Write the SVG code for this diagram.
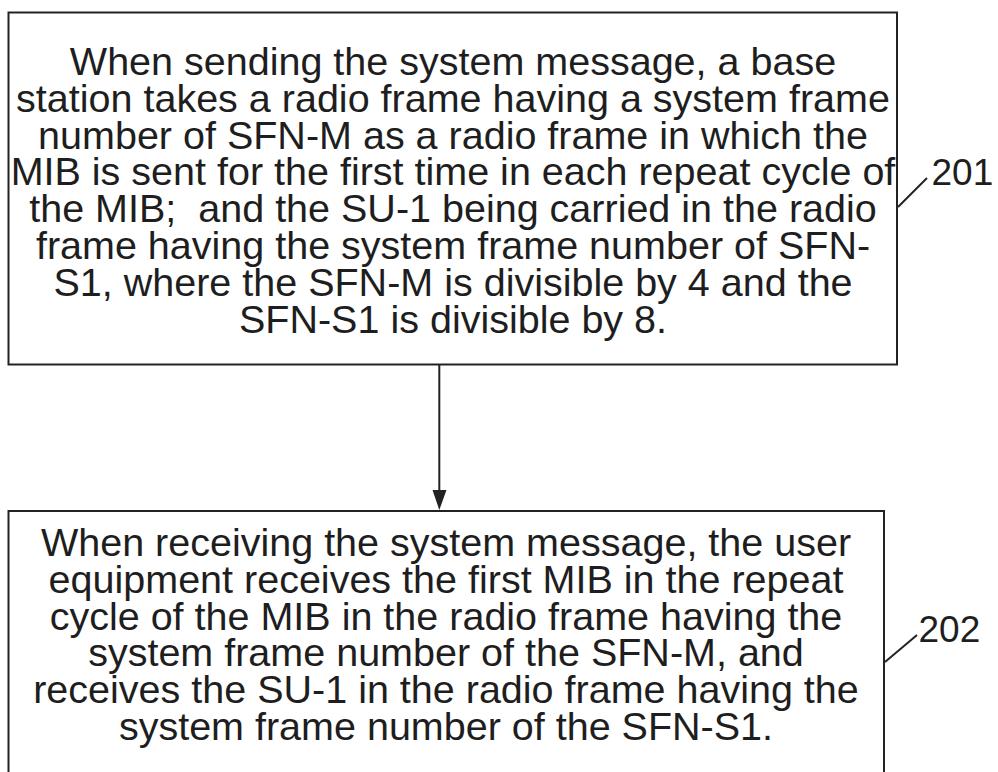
<svg xmlns="http://www.w3.org/2000/svg" width="998" height="772" viewBox="0 0 998 772">
<style>
.box{fill:#fff;stroke:#222;stroke-width:2}
.ln{stroke:#222;stroke-width:2;fill:none}
.t{font-family:"Liberation Sans",Arial,sans-serif;font-size:39.5px;fill:#1e1e1e;text-anchor:middle;white-space:pre}
.lbl{font-family:"Liberation Sans",Arial,sans-serif;font-size:37px;fill:#1e1e1e}
</style>
<defs>
<marker id="ah" markerWidth="14" markerHeight="20" refX="7" refY="20" orient="auto-start-reverse" markerUnits="userSpaceOnUse" viewBox="0 0 14 20">
<path d="M0,0 L14,0 L7,20 Z" fill="#222" transform="rotate(0)"/>
</marker>
</defs>
<rect width="998" height="772" fill="#fff"/>
<g id="node-201">
<rect class="box" x="8.5" y="12.5" width="888.5" height="352"/>
<text class="t" x="453" y="75">When sending the system message, a base</text>
<text class="t" x="453" y="111.8">station takes a radio frame having a system frame</text>
<text class="t" x="453" y="148.6">number of SFN-M as a radio frame in which the</text>
<text class="t" x="453" y="185.4">MIB is sent for the first time in each repeat cycle of</text>
<text class="t" x="453" y="222.2">the MIB;  and the SU-1 being carried in the radio</text>
<text class="t" x="453" y="259">frame having the system frame number of SFN-</text>
<text class="t" x="453" y="295.8">S1, where the SFN-M is divisible by 4 and the</text>
<text class="t" x="453" y="332.6">SFN-S1 is divisible by 8.</text>
</g>
<g id="node-202">
<rect class="box" x="8.5" y="511" width="875.5" height="280"/>
<text class="t" x="446" y="556">When receiving the system message, the user</text>
<text class="t" x="446" y="592.8">equipment receives the first MIB in the repeat</text>
<text class="t" x="446" y="629.6">cycle of the MIB in the radio frame having the</text>
<text class="t" x="446" y="666.4">system frame number of the SFN-M, and</text>
<text class="t" x="446" y="703.2">receives the SU-1 in the radio frame having the</text>
<text class="t" x="446" y="740">system frame number of the SFN-S1.</text>
</g>
<g id="label-201">
<line class="ln" x1="898" y1="207" x2="927" y2="178"/>
<text class="lbl" x="931.5" y="185">201</text>
</g>
<g id="label-202">
<line class="ln" x1="885" y1="662" x2="917" y2="635"/>
<text class="lbl" x="918.5" y="642">202</text>
</g>
<g id="connectors">
<line class="ln" x1="439.3" y1="365" x2="439.3" y2="492"/>
<polygon points="432.5,490 446.5,490 439.3,510" fill="#222"/>
</g>
</svg>
